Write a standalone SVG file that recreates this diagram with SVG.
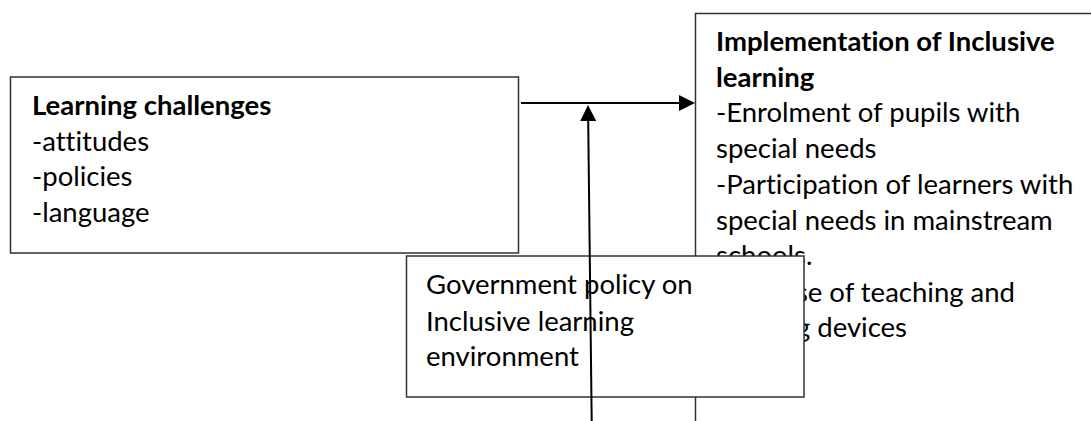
<svg xmlns="http://www.w3.org/2000/svg" width="1091" height="421" viewBox="0 0 1091 421">
  <style>
    .box { fill: #ffffff; stroke: #333333; stroke-width: 1.5; }
    .t { font-family: Lato, "Open Sans", sans-serif; font-size: 27.5px; fill: #000000; font-variant-ligatures: none; font-feature-settings: "liga" 0, "clig" 0; }
    .b { font-weight: bold; }
    .conn { stroke: #000000; stroke-width: 2; fill: none; }
  </style>
  <defs>
    <marker id="arrow" markerUnits="userSpaceOnUse" markerWidth="16" markerHeight="16" refX="0" refY="8" orient="auto" viewBox="0 0 16 16">
      <path d="M0,0 L16,8 L0,16 z" fill="#000000"/>
    </marker>
  </defs>
  <rect x="0" y="0" width="1091" height="421" fill="#ffffff"/>

  <g id="learning-challenges">
    <rect class="box" x="10.5" y="77" width="508" height="176"/>
    <text class="t b" x="32" y="115">Learning challenges</text>
    <text class="t" x="32" y="150.7">-attitudes</text>
    <text class="t" x="32" y="186.4">-policies</text>
    <text class="t" x="32" y="222">-language</text>
  </g>

  <g id="implementation">
    <rect class="box" x="695.5" y="13.5" width="500" height="500"/>
    <text class="t b" x="716" y="51">Implementation of Inclusive</text>
    <text class="t b" x="716" y="86.5">learning</text>
    <text class="t" x="716" y="122">-Enrolment of pupils with</text>
    <text class="t" x="716" y="158">special needs</text>
    <text class="t" x="716" y="193.5">-Participation of learners with</text>
    <text class="t" x="716" y="229.5">special needs in mainstream</text>
    <text class="t" x="716" y="265">schools.</text>
    <text class="t" x="1015" y="301.5" text-anchor="end">se of teaching and</text>
    <text class="t" x="907" y="337" text-anchor="end">g devices</text>
  </g>

  <g id="government-policy">
    <rect class="box" x="406.5" y="256" width="397.5" height="141"/>
    <text class="t" x="426" y="294">Government policy on</text>
    <text class="t" x="426" y="330.5">Inclusive learning</text>
    <text class="t" x="426" y="366">environment</text>
  </g>

  <g id="connectors">
    <line class="conn" x1="521" y1="103" x2="679" y2="103" marker-end="url(#arrow)"/>
    <line class="conn" x1="591.7" y1="421" x2="588.2" y2="121" marker-end="url(#arrow)"/>
  </g>
</svg>
